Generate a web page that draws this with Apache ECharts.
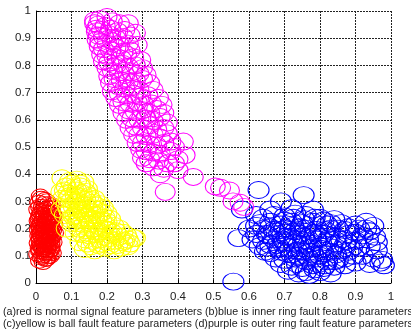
<!DOCTYPE html>
<html><head><meta charset="utf-8">
<script src="https://cdn.jsdelivr.net/npm/echarts@6/dist/echarts.min.js"></script>
<style>html,body{margin:0;padding:0;background:#fff}#c{width:411px;height:332px}</style>
</head><body><div id="c"></div>
<script>
// Caption lines
const captionLines = [
  "(a)red is normal signal feature parameters (b)blue is inner ring fault feature parameters",
  "(c)yellow is ball fault feature parameters (d)purple is outer ring fault feature parameters"
];
const xTicks = [0,0.1,0.2,0.3,0.4,0.5,0.6,0.7,0.8,0.9,1];
const yTicks = [0,0.1,0.2,0.3,0.4,0.5,0.6,0.7,0.8,0.9,1];

// (a) normal - red
const redPts = [
[0.012,0.318],[0.025,0.305],[0.008,0.295],[0.035,0.29],[0.018,0.28],[0.042,0.275],[0.005,0.27],[0.028,0.268],
[0.015,0.26],[0.038,0.258],[0.022,0.25],[0.048,0.248],[0.01,0.245],[0.032,0.24],[0.02,0.235],[0.044,0.232],
[0.006,0.228],[0.027,0.225],[0.015,0.22],[0.037,0.218],[0.05,0.215],[0.01,0.21],[0.024,0.208],[0.033,0.205],
[0.043,0.2],[0.018,0.198],[0.007,0.195],[0.029,0.19],[0.039,0.188],[0.013,0.185],[0.052,0.183],[0.022,0.18],
[0.034,0.176],[0.008,0.173],[0.045,0.17],[0.017,0.168],[0.027,0.165],[0.04,0.162],[0.011,0.158],[0.031,0.155],
[0.02,0.152],[0.048,0.15],[0.006,0.147],[0.036,0.145],[0.025,0.14],[0.015,0.137],[0.043,0.135],[0.03,0.13],
[0.009,0.128],[0.02,0.123],[0.038,0.12],[0.013,0.116],[0.028,0.112],[0.046,0.11],[0.005,0.106],[0.022,0.103],
[0.034,0.098],[0.015,0.094],[0.027,0.088],[0.01,0.082],[0.02,0.077],[0.03,0.26],[0.019,0.215],[0.036,0.232],
[0.014,0.176],[0.041,0.185],[0.024,0.193],[0.031,0.17],[0.012,0.2],[0.047,0.195],[0.026,0.15],[0.017,0.13],
[0.035,0.112],[0.009,0.233],[0.04,0.245],
[0.015,0.31],[0.03,0.3],[0.022,0.29],[0.045,0.285],[0.01,0.28],[0.033,0.275],[0.02,0.265],[0.045,0.26],
[0.012,0.252],[0.026,0.245],[0.038,0.24],[0.016,0.238],[0.03,0.228],[0.042,0.222],[0.013,0.218],[0.022,0.212],
[0.04,0.208],[0.03,0.2],[0.015,0.19],[0.035,0.185],[0.025,0.178],[0.044,0.176],[0.012,0.165],[0.036,0.16],
[0.022,0.158],[0.042,0.148],[0.012,0.142],[0.032,0.138],[0.022,0.132],[0.042,0.125],[0.03,0.12],[0.01,0.118],
[0.024,0.11],[0.04,0.1],[0.018,0.1],[0.03,0.09]
];
// (c) ball fault - yellow
const yellowPts = [
[0.073,0.385],[0.095,0.375],[0.115,0.38],[0.135,0.37],[0.085,0.355],[0.105,0.35],[0.125,0.355],[0.145,0.345],
[0.07,0.335],[0.09,0.33],[0.11,0.325],[0.13,0.33],[0.15,0.32],[0.165,0.31],[0.075,0.31],[0.1,0.305],
[0.12,0.3],[0.14,0.305],[0.16,0.295],[0.18,0.29],[0.085,0.29],[0.105,0.28],[0.125,0.285],[0.145,0.275],
[0.17,0.27],[0.19,0.275],[0.095,0.265],[0.115,0.26],[0.135,0.255],[0.155,0.26],[0.175,0.25],[0.2,0.255],
[0.105,0.245],[0.125,0.235],[0.145,0.24],[0.165,0.235],[0.185,0.23],[0.21,0.235],[0.115,0.22],[0.135,0.215],
[0.155,0.22],[0.175,0.21],[0.195,0.215],[0.22,0.21],[0.12,0.2],[0.14,0.195],[0.16,0.2],[0.18,0.19],
[0.2,0.195],[0.225,0.19],[0.245,0.185],[0.13,0.18],[0.15,0.175],[0.17,0.18],[0.19,0.17],[0.21,0.175],
[0.235,0.17],[0.255,0.175],[0.275,0.165],[0.14,0.16],[0.16,0.155],[0.18,0.16],[0.2,0.15],[0.22,0.155],
[0.245,0.15],[0.265,0.145],[0.124,0.15],[0.136,0.125],[0.155,0.135],[0.175,0.14],[0.195,0.13],[0.22,0.12],
[0.24,0.13],[0.26,0.135],[0.28,0.165],[0.23,0.14],[0.09,0.31],[0.07,0.27],[0.08,0.25],[0.095,0.235],
[0.1,0.365],[0.125,0.365],[0.08,0.34],[0.115,0.34],[0.14,0.335],[0.095,0.32],[0.125,0.315],[0.155,0.305],
[0.11,0.295],[0.135,0.29],[0.17,0.285],[0.09,0.275],[0.12,0.27],[0.16,0.275],[0.185,0.26],[0.13,0.265],
[0.11,0.25],[0.14,0.25],[0.165,0.25],[0.195,0.24],[0.12,0.23],[0.15,0.23],[0.175,0.225],[0.2,0.225],
[0.235,0.2],[0.19,0.2],[0.165,0.19],[0.215,0.185],[0.26,0.16],[0.185,0.145],[0.21,0.14],[0.25,0.155],
[0.145,0.145],[0.165,0.12],[0.205,0.165],[0.1,0.22],[0.085,0.2],[0.11,0.185]
];
// (b) inner ring fault - blue
const bluePts = [
[0.627,0.342],[0.754,0.323],[0.58,0.27],[0.69,0.3],[0.66,0.27],[0.72,0.275],[0.78,0.27],[0.62,0.25],
[0.64,0.24],[0.67,0.25],[0.7,0.245],[0.73,0.255],[0.76,0.25],[0.8,0.24],[0.84,0.235],
[0.63,0.22],[0.66,0.225],[0.69,0.215],[0.72,0.225],[0.75,0.22],[0.78,0.225],[0.82,0.215],[0.86,0.22],[0.9,0.215],[0.93,0.225],[0.95,0.21],
[0.64,0.2],[0.67,0.195],[0.7,0.2],[0.73,0.19],[0.76,0.2],[0.79,0.195],[0.83,0.2],[0.87,0.195],[0.91,0.2],[0.94,0.19],
[0.62,0.18],[0.655,0.175],[0.685,0.18],[0.715,0.17],[0.745,0.18],[0.775,0.175],[0.81,0.18],[0.845,0.17],[0.88,0.18],[0.92,0.175],
[0.57,0.165],[0.64,0.155],[0.67,0.16],[0.7,0.15],[0.73,0.16],[0.76,0.155],[0.79,0.16],[0.82,0.15],[0.86,0.16],[0.9,0.155],[0.935,0.16],
[0.65,0.13],[0.68,0.14],[0.71,0.13],[0.74,0.14],[0.77,0.13],[0.8,0.135],[0.835,0.13],[0.87,0.14],[0.91,0.13],
[0.66,0.11],[0.69,0.115],[0.72,0.105],[0.75,0.115],[0.78,0.105],[0.81,0.11],[0.845,0.105],[0.88,0.115],[0.92,0.1],[0.95,0.09],
[0.7,0.085],[0.73,0.09],[0.76,0.08],[0.79,0.09],[0.82,0.08],[0.85,0.085],[0.9,0.075],[0.94,0.07],[0.97,0.075],[0.98,0.065],
[0.72,0.06],[0.75,0.055],[0.78,0.065],[0.81,0.055],[0.84,0.06],[0.87,0.065],
[0.74,0.035],[0.77,0.03],[0.8,0.04],[0.83,0.035],[0.556,0.005],[0.96,0.12],[0.975,0.085],
[0.715,0.195],[0.745,0.205],[0.775,0.145],[0.805,0.125],[0.735,0.12],[0.765,0.095],[0.795,0.07],[0.825,0.165],[0.705,0.17],
[0.6,0.2],[0.61,0.16],[0.63,0.135],[0.645,0.115],[0.675,0.09],[0.69,0.07],[0.71,0.045],[0.7,0.23],
[0.725,0.24],[0.755,0.235],[0.785,0.24],[0.81,0.23],[0.83,0.22],[0.85,0.2],[0.88,0.205],[0.9,0.185],
[0.93,0.2],[0.955,0.17],[0.96,0.15],[0.94,0.135],[0.89,0.13],[0.86,0.12],[0.83,0.115],[0.8,0.1],
[0.77,0.115],[0.74,0.1],[0.705,0.11],[0.685,0.125],[0.66,0.14],[0.695,0.16],[0.725,0.145],[0.755,0.17],
[0.785,0.185],[0.815,0.195],[0.8,0.165],[0.845,0.145],[0.875,0.155],[0.895,0.1],[0.87,0.09],[0.84,0.08],
[0.815,0.065],[0.785,0.05],[0.76,0.04],[0.735,0.07],[0.755,0.14],[0.725,0.21],[0.69,0.195],[0.66,0.205],
[0.65,0.18],[0.62,0.21]
];
// (d) outer ring fault - magenta
const magentaPts = [
[0.165,0.955],[0.2,0.978],[0.18,0.97],[0.215,0.962],[0.175,0.95],[0.195,0.945],[0.235,0.955],[0.17,0.935],
[0.185,0.93],[0.21,0.935],[0.23,0.925],[0.25,0.93],[0.175,0.91],[0.19,0.905],[0.205,0.915],[0.225,0.9],
[0.245,0.905],[0.265,0.91],[0.18,0.885],[0.2,0.88],[0.215,0.89],[0.235,0.875],[0.26,0.88],[0.19,0.86],
[0.21,0.855],[0.225,0.865],[0.245,0.85],[0.265,0.855],[0.2,0.835],[0.22,0.83],[0.24,0.825],[0.255,0.84],
[0.275,0.83],[0.205,0.81],[0.225,0.8],[0.245,0.805],[0.26,0.795],[0.28,0.8],[0.215,0.78],[0.235,0.775],
[0.25,0.765],[0.27,0.775],[0.29,0.77],[0.22,0.75],[0.24,0.745],[0.26,0.74],[0.28,0.745],[0.3,0.75],
[0.23,0.725],[0.25,0.715],[0.27,0.72],[0.29,0.71],[0.235,0.695],[0.255,0.69],[0.275,0.695],[0.295,0.685],
[0.315,0.69],[0.245,0.665],[0.265,0.66],[0.285,0.665],[0.305,0.655],[0.325,0.66],[0.26,0.635],[0.28,0.63],
[0.3,0.635],[0.32,0.625],[0.34,0.64],[0.27,0.605],[0.29,0.6],[0.31,0.605],[0.33,0.595],[0.35,0.61],
[0.28,0.575],[0.3,0.57],[0.32,0.58],[0.34,0.565],[0.29,0.545],[0.31,0.54],[0.33,0.545],[0.35,0.535],
[0.37,0.55],[0.3,0.515],[0.32,0.51],[0.34,0.505],[0.36,0.515],[0.31,0.485],[0.33,0.48],[0.35,0.475],
[0.38,0.485],[0.32,0.455],[0.345,0.45],[0.37,0.44],[0.4,0.455],[0.36,0.42],[0.4,0.415],[0.443,0.39],
[0.415,0.52],[0.364,0.335],[0.505,0.355],[0.52,0.35],[0.545,0.34],[0.555,0.3],[0.575,0.295],[0.585,0.28],
[0.165,0.965],[0.26,0.955],[0.28,0.92],[0.17,0.925],[0.172,0.895],[0.285,0.875],[0.178,0.87],[0.185,0.84],
[0.295,0.82],[0.19,0.815],[0.3,0.79],[0.2,0.79],[0.31,0.765],[0.205,0.76],[0.21,0.735],[0.32,0.735],
[0.215,0.705],[0.33,0.71],[0.225,0.68],[0.345,0.68],[0.235,0.655],[0.355,0.655],[0.245,0.625],[0.36,0.625],
[0.255,0.6],[0.37,0.59],[0.265,0.57],[0.36,0.57],[0.275,0.545],[0.38,0.52],[0.285,0.515],[0.295,0.49],
[0.3,0.46],[0.39,0.5],[0.31,0.44],[0.33,0.425],[0.35,0.4],[0.39,0.44],[0.42,0.47]
];

const chart = echarts.init(document.getElementById('c'), null, {renderer:'canvas'});
const font = '"Liberation Sans", Arial, sans-serif';
function ser(name, data, color, size){
  return {name, type:'scatter', data, symbol:'circle', symbolSize:size, clip:false,
    itemStyle:{color:'rgba(255,255,255,0)', borderColor:color, borderWidth:1, opacity:1},
    emphasis:{disabled:true}, silent:true, z:2};
}
const fmt = v => { const t = xTicks.find(k => Math.abs(k - v) < 1e-6); return t === undefined ? '' : String(t); };
const fmtY = v => { const t = yTicks.find(k => Math.abs(k - v) < 1e-6); return t === undefined ? '' : String(t); };
chart.setOption({
  animation:false,
  backgroundColor:'#fff',
  grid:{left:36, right:20, top:11, bottom:49, containLabel:false, outerBoundsMode:'none'},
  xAxis:{type:'value', min:0, max:1, interval:0.1,
    axisLine:{show:true, onZero:false, lineStyle:{color:'#000', width:1}},
    axisTick:{show:true, inside:true, length:3, lineStyle:{color:'#000'}},
    axisLabel:{formatter:fmt, color:'#222', fontSize:11.5, fontFamily:font, margin:8},
    splitLine:{show:true, showMinLine:false, lineStyle:{color:'#222', type:[2,1], width:1}}},
  yAxis:{type:'value', min:0, max:1, interval:0.1,
    axisLine:{show:true, onZero:false, lineStyle:{color:'#000', width:1}},
    axisTick:{show:true, inside:true, length:3, lineStyle:{color:'#000'}},
    axisLabel:{formatter:fmtY, color:'#222', fontSize:11.5, fontFamily:font, margin:5},
    splitLine:{show:true, showMinLine:false, lineStyle:{color:'#222', type:[2,1], width:1}}},
  series:[
    ser('normal', redPts, '#ff0000', [18,15]),
    ser('inner', bluePts, '#0000ff', [21,17]),
    ser('ball', yellowPts, '#ffff00', [20,17]),
    ser('outer', magentaPts, '#ff00ff', [20,17])
  ],
  graphic: captionLines.map((t,i)=>({type:'text', left:3, top:307 + i*11.5,
    style:{text:t, fill:'#222', font:'10.7px "Liberation Sans", Arial, sans-serif'}, silent:true}))
});
</script></body></html>
